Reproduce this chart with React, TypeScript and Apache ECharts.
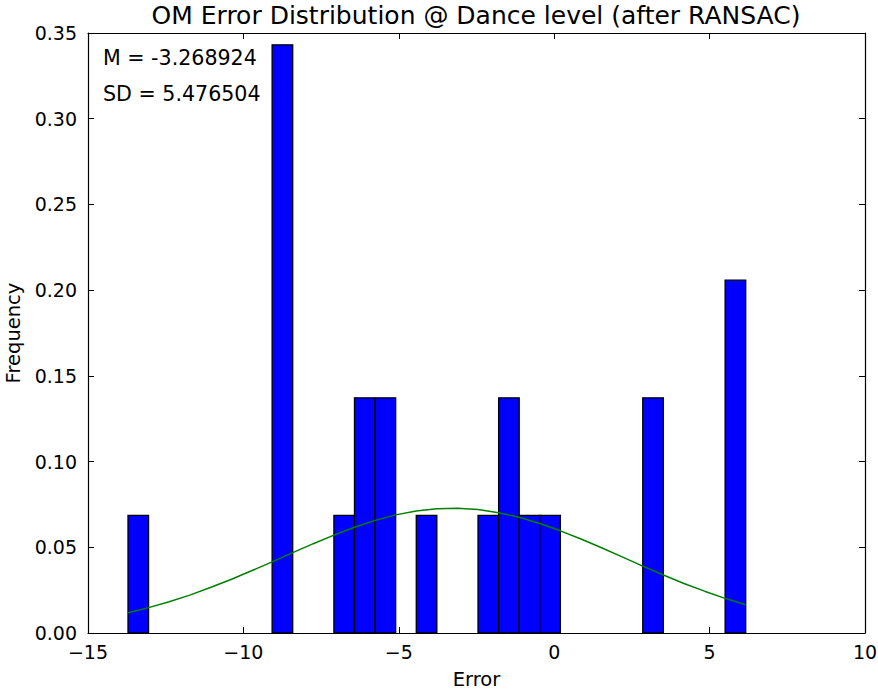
import React, { useEffect, useRef } from "react";
import * as echarts from "echarts";

const titleText = "OM Error Distribution @ Dance level (after RANSAC)";
const xName = "Error";
const yName = "Frequency";
const statLines = ["M = -3.268924", "SD = 5.476504"];

// histogram bin edges (30 bins)
const binEdges = [
  -13.713, -13.051, -12.388, -11.726, -11.063, -10.401, -9.738, -9.076, -8.413, -7.751,
  -7.088, -6.426, -5.763, -5.101, -4.438, -3.776, -3.113, -2.451, -1.788, -1.126,
  -0.463, 0.199, 0.862, 1.524, 2.187, 2.849, 3.512, 4.174, 4.837, 5.499, 6.162,
];
// normalised frequency per bin
const binFreq = [
  0.0686, 0, 0, 0, 0, 0, 0, 0.3431, 0, 0,
  0.0686, 0.1372, 0.1372, 0, 0.0686, 0, 0, 0.0686, 0.1372, 0.0686,
  0.0686, 0, 0, 0, 0, 0.1372, 0, 0, 0, 0.2058,
];
// fitted normal curve, read at the bin edges
const curveY = [
  0.0118, 0.0148, 0.0182, 0.0221, 0.0265, 0.0312, 0.0363, 0.0415, 0.0469, 0.0521,
  0.0571, 0.0617, 0.0657, 0.0689, 0.0712, 0.0725, 0.0728, 0.0720, 0.0702, 0.0675,
  0.0639, 0.0596, 0.0548, 0.0497, 0.0444, 0.0390, 0.0338, 0.0289, 0.0244, 0.0202, 0.0165,
];

const FONT = "DejaVu Sans";

export default function App() {
  const ref = useRef<HTMLDivElement>(null);
  useEffect(() => {
    if (!ref.current) return;
    const chart = echarts.init(ref.current, undefined, { renderer: "svg" });
    const bars = binFreq
      .map((f, i) => [binEdges[i], binEdges[i + 1], f])
      .filter((d) => d[2] > 0);
    const curve = binEdges.map((x, i) => [x, curveY[i]]);
    const xFmt = (v: number) => String(v).replace("-", "\u2212");
    const axisLine = { show: true, onZero: false, lineStyle: { color: "#000", width: 1.2 } };
    const tick = { show: true, inside: true, length: 6, lineStyle: { color: "#000", width: 1 } };
    chart.setOption({
      animation: false,
      backgroundColor: "#fff",
      grid: {
        left: 88,
        right: 13,
        top: 33,
        bottom: 58,
        containLabel: false,
        outerBoundsMode: "none",
      },
      xAxis: [
        {
          type: "value",
          min: -15,
          max: 10,
          interval: 5,
          position: "bottom",
          axisLine,
          axisTick: tick,
          splitLine: { show: false },
          axisLabel: { color: "#000", fontFamily: FONT, fontSize: 19, margin: 9, formatter: xFmt },
          name: xName,
          nameLocation: "middle",
          nameGap: 36,
          nameTextStyle: { color: "#000", fontFamily: FONT, fontSize: 19.5 },
        },
        {
          type: "value",
          min: -15,
          max: 10,
          interval: 5,
          position: "top",
          axisLine,
          axisTick: tick,
          splitLine: { show: false },
          axisLabel: { show: false },
        },
      ],
      yAxis: [
        {
          type: "value",
          min: 0,
          max: 0.35,
          interval: 0.05,
          position: "left",
          axisLine,
          axisTick: tick,
          splitLine: { show: false },
          axisLabel: {
            color: "#000",
            fontFamily: FONT,
            fontSize: 19,
            margin: 11,
            formatter: (v: number) => v.toFixed(2),
          },
          name: yName,
          nameLocation: "middle",
          nameGap: 64,
          nameRotate: 90,
          nameTextStyle: { color: "#000", fontFamily: FONT, fontSize: 19.5 },
        },
        {
          type: "value",
          min: 0,
          max: 0.35,
          interval: 0.05,
          position: "right",
          axisLine,
          axisTick: tick,
          splitLine: { show: false },
          axisLabel: { show: false },
        },
      ],
      series: [
        {
          type: "custom",
          name: "hist",
          data: bars,
          renderItem: (params: any, api: any) => {
            const p0 = api.coord([api.value(0), api.value(2)]);
            const p1 = api.coord([api.value(1), 0]);
            return {
              type: "rect",
              shape: { x: p0[0], y: p0[1], width: p1[0] - p0[0], height: p1[1] - p0[1] },
              style: { fill: "#0000ff", stroke: "#000", lineWidth: 1.3 },
            };
          },
          encode: { x: [0, 1], y: 2 },
          z: 2,
        },
        {
          type: "line",
          name: "fit",
          data: curve,
          showSymbol: false,
          symbol: "none",
          lineStyle: { color: "#008000", width: 1.5 },
          z: 3,
        },
      ],
      graphic: [
        {
          type: "text",
          x: 476,
          y: 15,
          style: {
            text: titleText,
            fill: "#000",
            font: `25px "${FONT}"`,
            textAlign: "center",
            textVerticalAlign: "middle",
          },
        },
        ...statLines.map((t, i) => ({
          type: "text",
          x: 103,
          y: 58 + i * 36,
          style: {
            text: t,
            fill: "#000",
            font: `20.6px "${FONT}"`,
            textAlign: "left",
            textVerticalAlign: "middle",
          },
        })),
      ],
    });
    return () => chart.dispose();
  }, []);
  return (
    <div
      ref={ref}
      style={{ position: "fixed", left: 0, top: 0, width: 878, height: 691 }}
    />
  );
}
